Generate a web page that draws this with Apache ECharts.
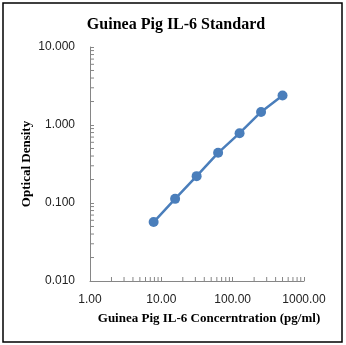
<!DOCTYPE html>
<html><head><meta charset="utf-8">
<script src="https://cdn.jsdelivr.net/npm/echarts@6/dist/echarts.min.js"></script>
<style>html,body{margin:0;padding:0;background:#fff}#c{width:346px;height:345px}</style>
</head><body><div id="c"></div>
<script>
var concentrations = [7.8, 15.6, 31.25, 62.5, 125, 250, 500];
var odValues = [0.057, 0.113, 0.221, 0.44, 0.785, 1.47, 2.39];
var xMinorTicks = [2,3,4,5,6,7,8,9,20,30,40,50,60,70,80,90,200,300,400,500,600,700,800,900];
var yMinorTicks = [0.02,0.03,0.04,0.05,0.06,0.07,0.08,0.09,0.2,0.3,0.4,0.5,0.6,0.7,0.8,0.9,2,3,4,5,6,7,8,9];
var titleText = 'Guinea Pig IL-6 Standard';
var xName = 'Guinea Pig IL-6 Concerntration (pg/ml)';
var yName = 'Optical Density';

var chart = echarts.init(document.getElementById('c'));
var axisColor = '#868686';
var serif = '"Liberation Serif", "Times New Roman", serif';
var sans = '"Liberation Sans", Arial, sans-serif';

function tickSeries(vals, isX) {
  return {
    type: 'custom', silent: true, z: 1,
    data: vals,
    renderItem: function (params, api) {
      var v = api.value(0);
      var p = isX ? api.coord([v, 0.01]) : api.coord([1, v]);
      var shape = isX ? {x1: p[0], y1: p[1], x2: p[0], y2: p[1] - 4}
                      : {x1: p[0], y1: p[1], x2: p[0] + 4, y2: p[1]};
      return {type: 'line', shape: shape, style: {stroke: axisColor, lineWidth: 1}};
    },
    encode: {x: 0}
  };
}

chart.setOption({
  animation: false,
  backgroundColor: '#fff',
  title: {
    text: titleText, left: 171, top: 12, textAlign: 'center',
    textStyle: {fontFamily: serif, fontWeight: 'bold', fontSize: 16, color: '#000'}
  },
  grid: {left: 90, right: 42, top: 47, bottom: 64},
  xAxis: {
    type: 'log', logBase: 10, min: 1, max: 1000,
    name: xName, nameLocation: 'middle', nameGap: 31, nameMoveOverlap: false,
    nameTextStyle: {fontFamily: serif, fontWeight: 'bold', fontSize: 13, color: '#000', padding: [0, 0, 0, 24]},
    axisLine: {lineStyle: {color: axisColor, width: 1}},
    axisTick: {show: true, inside: true, length: 4, lineStyle: {color: axisColor}},
    axisLabel: {fontFamily: sans, fontSize: 12, color: '#222', margin: 13,
      formatter: function (v) { return v.toFixed(2); }},
    splitLine: {show: false}
  },
  yAxis: {
    type: 'log', logBase: 10, min: 0.01, max: 10,
    name: yName, nameLocation: 'middle', nameGap: 57, nameRotate: 90, nameMoveOverlap: false,
    nameTextStyle: {fontFamily: serif, fontWeight: 'bold', fontSize: 13, color: '#000'},
    axisLine: {show: true, lineStyle: {color: axisColor, width: 1}},
    axisTick: {show: true, inside: true, length: 4, lineStyle: {color: axisColor}},
    axisLabel: {fontFamily: sans, fontSize: 12, color: '#222', margin: 15,
      formatter: function (v) { return v.toFixed(3); }},
    splitLine: {show: false}
  },
  graphic: [{
    type: 'rect', shape: {x: 3, y: 3, width: 339, height: 339},
    style: {fill: null, stroke: '#000', lineWidth: 1.5}, z: 100, silent: true
  }],
  series: [
    tickSeries(xMinorTicks, true),
    tickSeries(yMinorTicks, false),
    {
      type: 'line', data: concentrations.map(function (c, i) { return [c, odValues[i]]; }),
      symbol: 'circle', symbolSize: 10,
      lineStyle: {color: '#4a7ebb', width: 2.5},
      itemStyle: {color: '#4a7ebb'}, z: 5
    }
  ]
});
</script></body></html>
